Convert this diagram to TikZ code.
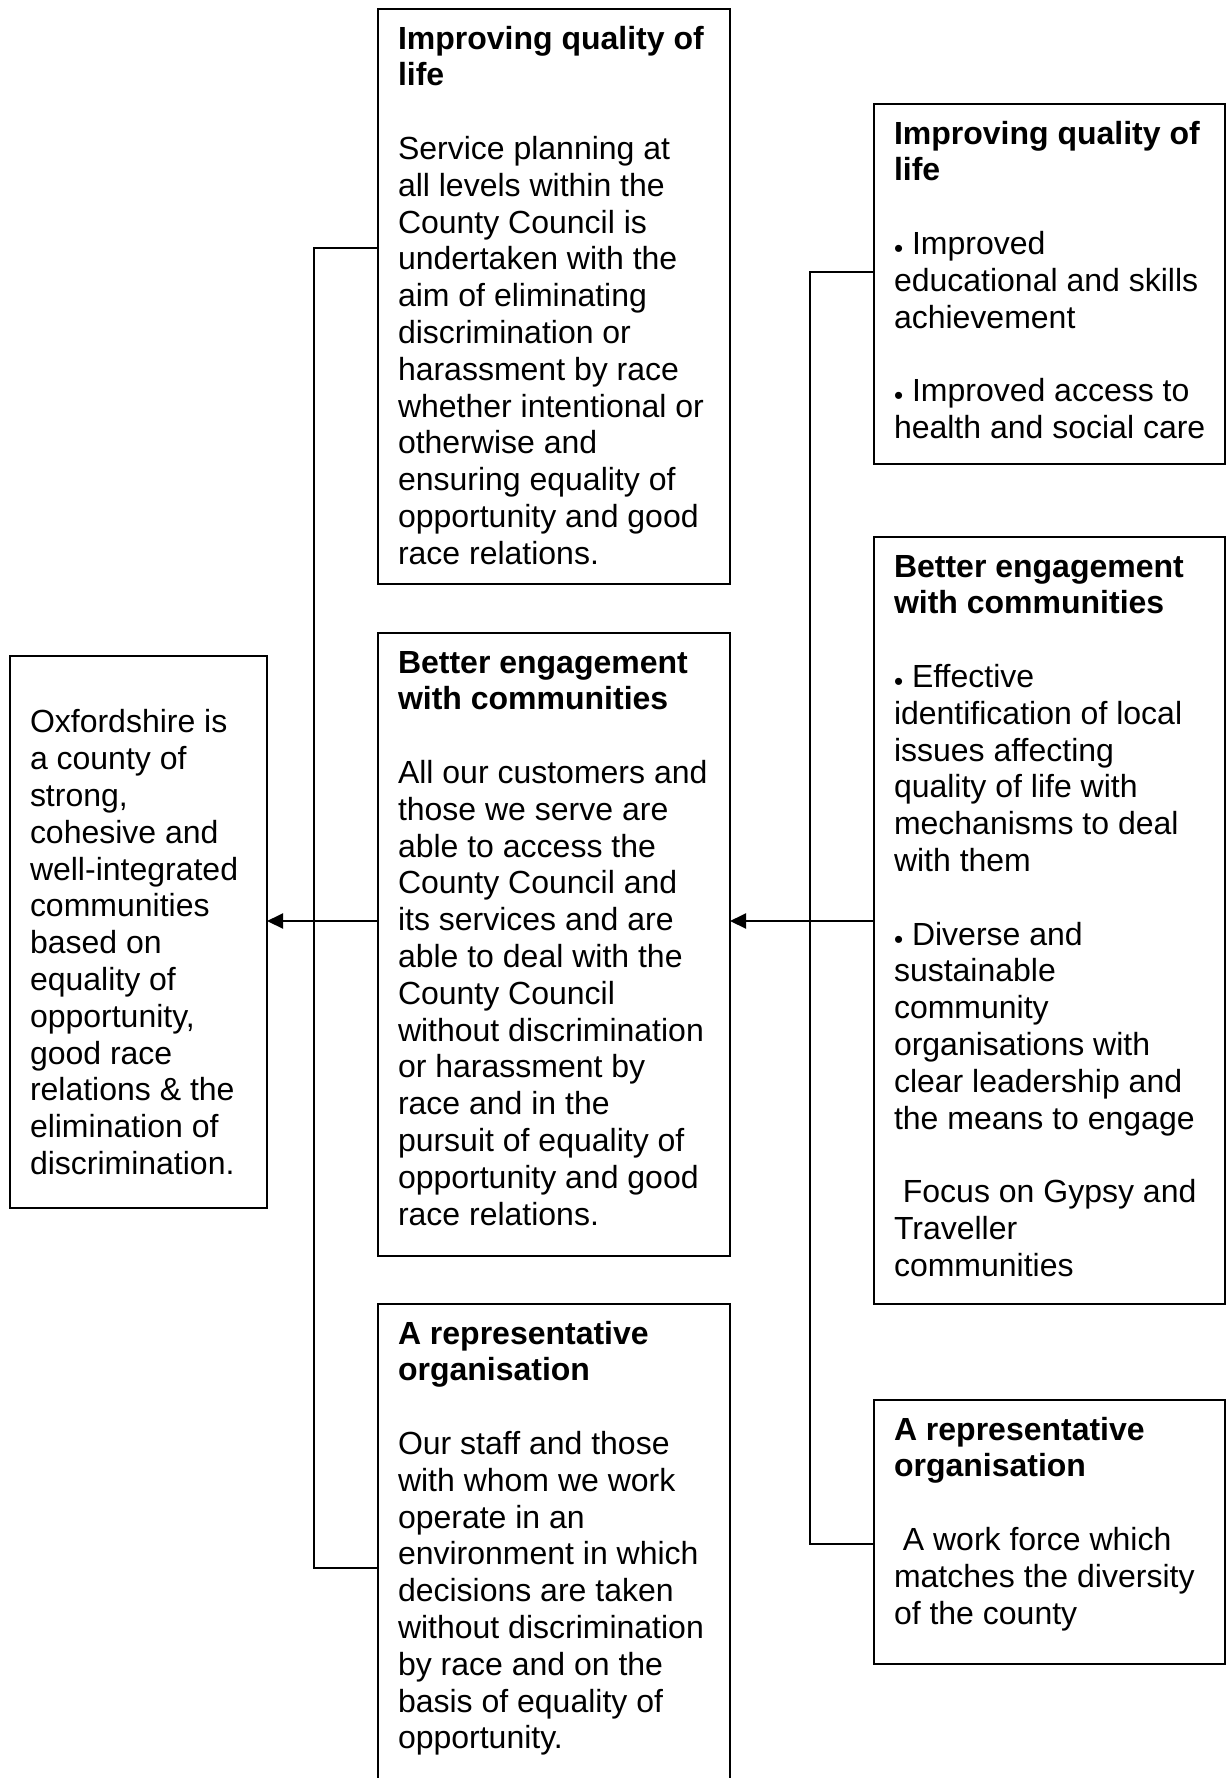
\documentclass[tikz,border=0pt]{standalone}
\usepackage{fontspec}
\setmainfont{Liberation Sans}
\usetikzlibrary{arrows.meta}
\newcommand{\bx}[3]{\parbox[t][#2pt][t]{#1pt}{\leftskip=20pt\relax\rightskip=0pt plus 1fil\relax\parindent=0pt\relax\parfillskip=0pt plus 1fil\relax\fontsize{32}{36.8}\selectfont\rule{0pt}{40pt}#3}}
\newcommand{\bul}{\raisebox{-3pt}{\fontsize{26}{26}\selectfont •}\ }
\newcommand{\lead}{\hspace*{0.278em}}
\newcommand{\gap}{\\[36.8pt]}
\begin{document}
\begin{tikzpicture}[x=1pt,y=-1pt,
  panel/.style={draw, line width=2pt, anchor=north west, inner sep=0pt, outer sep=0pt},
  link/.style={line width=2pt},
  arr/.style={line width=2pt, -{Triangle[length=16pt,width=15pt]}}]
\useasboundingbox (0,0) rectangle (1226,1778);
\clip (0,0) rectangle (1226,1778);
\fill[white] (0,0) rectangle (1226,1778);

\node[panel] (mt) at (378,9) {\bx{352}{575}{\textbf{Improving quality of\\ life}\gap
Service planning at\\ all levels within the\\ County Council is\\ undertaken with the\\ aim of eliminating\\ discrimination or\\ harassment by race\\ whether intentional or\\ otherwise and\\ ensuring equality of\\ opportunity and good\\ race relations.}};

\node[panel] (mm) at (378,633) {\bx{352}{623}{\textbf{Better engagement\\ with communities}\gap
All our customers and\\ those we serve are\\ able to access the\\ County Council and\\ its services and are\\ able to deal with the\\ County Council\\ without discrimination\\ or harassment by\\ race and in the\\ pursuit of equality of\\ opportunity and good\\ race relations.}};

\node[panel] (mb) at (378,1304) {\bx{352}{500}{\textbf{A representative\\ organisation}\gap
Our staff and those\\ with whom we work\\ operate in an\\ environment in which\\ decisions are taken\\ without discrimination\\ by race and on the\\ basis of equality of\\ opportunity.}};

\node[panel] (lb) at (10,656) {\bx{257}{552}{\mbox{}\\ Oxfordshire is\\ a county of\\ strong,\\ cohesive and\\ well-integrated\\ communities\\ based on\\ equality of\\ opportunity,\\ good race\\ relations \& the\\ elimination of\\ discrimination.}};

\node[panel] (rt) at (874,104) {\bx{351}{360}{\textbf{Improving quality of\\ life}\gap
\bul Improved\\ educational and skills\\ achievement\gap
\bul Improved access to\\ health and social care}};

\node[panel] (rm) at (874,537) {\bx{351}{767}{\textbf{Better engagement\\ with communities}\gap
\bul Effective\\ identification of local\\ issues affecting\\ quality of life with\\ mechanisms to deal\\ with them\gap
\bul Diverse and\\ sustainable\\ community\\ organisations with\\ clear leadership and\\ the means to engage\gap
\lead Focus on Gypsy and\\ Traveller\\ communities}};

\node[panel] (rb) at (874,1400) {\bx{351}{264}{\textbf{A representative\\ organisation}\gap
\lead A work force which\\ matches the diversity\\ of the county}};

\coordinate (la) at (314,248);
\coordinate (lz) at (314,1568);
\coordinate (ra) at (810,272);
\coordinate (rz) at (810,1544);
\coordinate (ya) at (0,921);

\draw[link] (mt.west |- la) -- (la) -- (lz) -- (mb.west |- lz);
\draw[link] (rt.west |- ra) -- (ra) -- (rz) -- (rb.west |- rz);
\draw[arr] (mm.west |- ya) -- (lb.east |- ya);
\draw[arr] (rm.west |- ya) -- (mm.east |- ya);
\end{tikzpicture}
\end{document}
